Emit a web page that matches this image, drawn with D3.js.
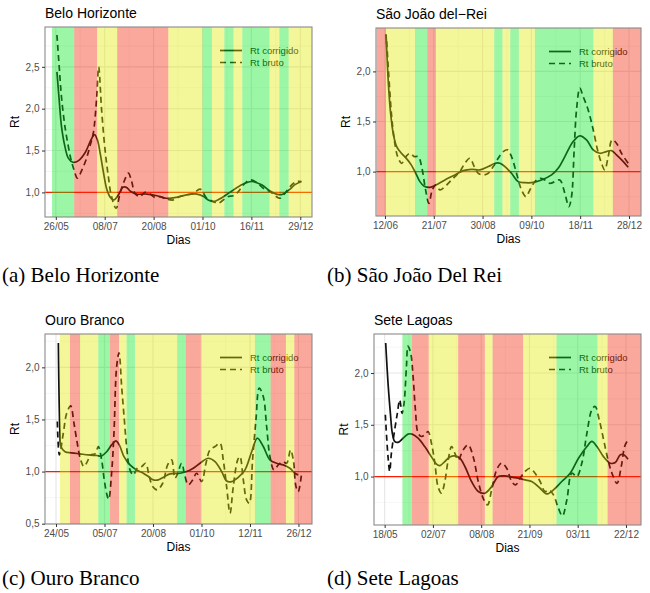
<!DOCTYPE html>
<html>
<head>
<meta charset="utf-8">
<script src="https://cdn.jsdelivr.net/npm/d3@7"></script>
<style>
	body { margin: 0; background: #fff; }
	text { font-family: "Liberation Sans", Arial, sans-serif; }
	.cap { font-family: "Liberation Serif", "Times New Roman", serif; }
</style>
</head>
<body>
<svg id="fig" width="650" height="593"></svg>
<script>
// x = days counted from the first date label, y = Rt value
// bands: [start, end, level] with g = verde, y = amarelo, r = vermelho

// ---------- Belo Horizonte ----------
const bhLabels = ['26/05', '08/07', '20/08', '01/10', '16/11', '29/12']
const bhCorrigido = [[1, 2.44], [3, 2.10], [5, 1.79], [8, 1.55], [11, 1.41], [15, 1.36], [20, 1.38], [26, 1.48],
	[31, 1.63], [34, 1.69], [36.5, 1.63], [39, 1.47], [42, 1.23], [45, 1.03], [48.5, 0.93], [51, 0.91], [55, 0.97],
	[59, 1.06], [62, 1.06], [66, 1.01], [71, 0.98], [80, 0.98], [89, 0.96], [97, 0.93], [106, 0.94], [115, 0.97],
	[124, 0.98], [130, 0.95], [134, 0.91], [139, 0.89], [144, 0.92], [153, 1.0], [162, 1.08], [172, 1.13],
	[181, 1.09], [188, 1.02], [194, 0.98], [199, 0.975], [206, 1.04], [210, 1.09], [216, 1.13]]
const bhBruto = [[1, 2.88], [3, 2.5], [5, 2.14], [8, 1.79], [11, 1.55], [13.4, 1.39], [16, 1.27], [19, 1.17],
	[23, 1.27], [26.6, 1.39], [30, 1.55], [33, 1.71], [36, 2.14], [37.7, 2.5], [40.3, 1.98], [43.3, 1.51],
	[46.2, 1.19], [49, 0.95], [53, 0.81], [56.5, 0.99], [60, 1.13], [63.8, 1.23], [66.7, 1.13], [69.6, 0.99],
	[74, 0.95], [78.4, 1.0], [82.8, 0.98], [87.3, 0.94], [91.7, 0.95], [97.5, 0.92], [103.4, 0.91], [109, 0.95],
	[115, 0.97], [121, 0.99], [126.8, 1.04], [129.8, 0.99], [132.7, 0.93], [138.6, 0.89], [143, 0.87],
	[147.3, 0.91], [151.7, 0.95], [156, 0.96], [160.5, 1.01], [165, 1.09], [170.8, 1.15], [176.6, 1.12],
	[182.5, 1.05], [188.4, 1.01], [192.8, 0.96], [197.2, 0.93], [201.6, 0.99], [206, 1.07], [211.8, 1.13], [216, 1.13]]
const bhBands = [[-3.3, 16.2, 'g'], [16.2, 36.3, 'r'], [36.3, 54, 'y'], [54, 99, 'r'], [99, 129, 'y'],
	[129, 137.3, 'g'], [137.3, 148.2, 'y'], [148.2, 156.4, 'g'], [156.4, 164, 'y'], [164, 188, 'g'],
	[188, 196.6, 'y'], [196.6, 204.8, 'g'], [204.8, 226, 'y']]

// ---------- Sao Joao del-Rei ----------
const sjLabels = ['12/06', '21/07', '30/08', '09/10', '18/11', '28/12']
const sjCorrigido = [[1, 2.37], [3, 1.88], [5, 1.58], [7.3, 1.38], [10.3, 1.25], [14.7, 1.18], [19, 1.13],
	[23, 1.07], [26.4, 1.0], [30.8, 0.9], [34.3, 0.857], [39.6, 0.843], [44.9, 0.867], [52.8, 0.917],
	[61.6, 0.967], [69, 1.01], [76.3, 1.023], [83.7, 1.017], [91, 1.05], [97, 1.083], [101.3, 1.083],
	[105.7, 1.05], [111.5, 0.983], [117.4, 0.9], [123.3, 0.89], [129, 0.89], [138, 0.917], [146.8, 0.967],
	[152.6, 1.033], [158.5, 1.15], [165.8, 1.3], [171.7, 1.357], [177.6, 1.317], [183.5, 1.217], [189.3, 1.183],
	[195.2, 1.2], [199.6, 1.21], [204, 1.167], [210, 1.1], [214.3, 1.043]]
const sjBruto = [[1.5, 2.3], [3.8, 1.88], [5.9, 1.55], [8.2, 1.32], [11.2, 1.15], [14.7, 1.083], [18.5, 1.15],
	[22, 1.183], [25.8, 1.15], [29.4, 1.15], [32.3, 1.05], [35.8, 0.817], [38.7, 0.683], [41.7, 0.817],
	[44.9, 0.867], [48.4, 0.817], [52.8, 0.85], [57.2, 0.9], [61.6, 0.95], [66, 1.0], [70.4, 1.083],
	[74.8, 1.133], [78.7, 1.05], [82.2, 0.983], [86.6, 0.967], [91, 0.983], [95.4, 1.05], [99.8, 1.133],
	[104.2, 1.2], [108, 1.217], [111.5, 1.15], [115.9, 0.983], [120.3, 0.817], [124.2, 0.75], [127.7, 0.817],
	[132.1, 0.9], [136.5, 0.933], [140.9, 0.917], [145.3, 0.883], [149.7, 0.9], [154.1, 0.917], [158.5, 0.783],
	[162, 0.65], [164.4, 0.75], [166.7, 1.217], [168.8, 1.617], [171.7, 1.833], [174.6, 1.75], [179, 1.617],
	[183.5, 1.417], [187.3, 1.217], [190.8, 1.083], [193.7, 1.017], [196.7, 1.15], [200.2, 1.317],
	[204, 1.283], [208.4, 1.183], [214.3, 1.083]]
const sjBands = [[-7.3, 0.9, 'r'], [0.9, 26.4, 'y'], [26.4, 37.3, 'g'], [37.3, 44.9, 'r'], [44.9, 96.3, 'y'],
	[96.3, 103.6, 'g'], [103.6, 110.4, 'y'], [110.4, 118, 'g'], [118, 132.1, 'y'], [132.1, 183.7, 'g'],
	[183.7, 200.8, 'y'], [200.8, 226, 'r']]

// ---------- Ouro Branco ----------
const obLabels = ['24/05', '05/07', '20/08', '01/10', '12/11', '26/12']
const obCorrigido = [[2.1, 2.234], [3.5, 1.369], [4.4, 1.24], [8, 1.19], [13.9, 1.18], [21.3, 1.17],
	[28.7, 1.16], [36.1, 1.154], [40.5, 1.15], [44.9, 1.19], [49.3, 1.256], [53.2, 1.295], [56.1, 1.256],
	[60.3, 1.144], [65.6, 1.064], [71.5, 1.016], [77.4, 0.984], [81.9, 0.952], [86.3, 0.92], [90.7, 0.92],
	[95.2, 0.945], [101.1, 0.978], [109.9, 0.984], [115.8, 1.0], [121.7, 1.032], [127.7, 1.08], [135, 1.128],
	[141, 1.096], [146.9, 1.0], [151.3, 0.91], [155.7, 0.904], [161.6, 0.945], [167.6, 1.016], [173.5, 1.19],
	[178.5, 1.32], [183.8, 1.24], [189.7, 1.112], [195.6, 1.08], [201.5, 1.064], [207.4, 1.032],
	[211.9, 0.984], [214.8, 0.968]]
const obBruto = [[1.2, 1.48], [3, 1.16], [6.5, 1.37], [9.5, 1.56], [13, 1.63], [16, 1.46], [18.9, 1.27],
	[21.9, 1.11], [24.8, 1.048], [27.8, 1.096], [30.7, 1.16], [34.6, 1.17], [37.5, 1.24], [40.5, 1.11],
	[42.8, 0.92], [44.9, 0.79], [46.7, 0.734], [49.3, 0.984], [51.4, 1.369], [53.8, 2.01], [55.9, 2.138],
	[58.2, 1.817], [60.6, 1.497], [62.6, 1.24], [65.6, 1.016], [68.6, 0.968], [72.1, 1.032], [76, 1.048],
	[79.5, 1.08], [82.4, 0.968], [85.7, 0.856], [89.8, 0.824], [94.6, 0.888], [99, 1.064], [102.5, 1.112],
	[105.5, 0.936], [107.9, 0.984], [111.4, 1.08], [114.4, 0.952], [117.3, 0.872], [121.2, 0.92],
	[124.7, 0.984], [129.1, 0.904], [133, 1.08], [136.5, 1.208], [141, 1.24], [145.4, 1.272], [148.3, 1.112],
	[151.3, 0.856], [154.3, 0.6], [157.2, 0.856], [161.1, 1.112], [163.1, 1.144], [166.1, 0.92], [169, 0.728],
	[171.4, 0.696], [174.3, 1.112], [177.3, 1.497], [180.2, 1.8], [183.8, 1.72], [186.8, 1.43], [189.7, 1.144],
	[193.3, 1.016], [197.1, 1.064], [201, 1.096], [204.5, 1.08], [208, 1.208], [210.4, 1.112], [212.8, 0.856],
	[214.8, 0.808], [217.8, 0.984]]
const obBands = [[3.5, 12.4, 'y'], [12.4, 21.3, 'r'], [21.3, 37.5, 'y'], [37.5, 47.9, 'g'], [47.9, 55.9, 'r'],
	[55.9, 62.6, 'y'], [62.6, 70, 'g'], [70, 107.6, 'y'], [107.6, 115, 'g'], [115, 128.5, 'r'],
	[128.5, 176.4, 'y'], [176.4, 190.3, 'g'], [190.3, 203.9, 'r'], [203.9, 211.3, 'y'], [211.3, 228, 'r']]

// ---------- Sete Lagoas ----------
const slLabels = ['18/05', '02/07', '08/08', '21/09', '03/11', '22/12']
const slCorrigido = [[0.9, 2.29], [3, 1.90], [5.1, 1.61], [6.8, 1.42], [8.9, 1.34], [11.9, 1.33], [16.4, 1.37],
	[20.8, 1.41], [24.4, 1.41], [29.8, 1.37], [35.7, 1.29], [41.7, 1.19], [46.2, 1.12], [49.1, 1.106],
	[53.6, 1.145], [58.1, 1.19], [62.5, 1.2], [67, 1.177], [71.5, 1.097], [77.4, 0.952], [83.4, 0.855],
	[89.3, 0.839], [95.3, 0.903], [101.2, 1.0], [107.2, 1.006], [113.2, 0.994], [119.1, 0.984], [125.1, 0.968],
	[131, 0.952], [138.5, 0.887], [144.4, 0.832], [150.4, 0.871], [157.8, 0.952], [165.3, 1.032],
	[172.7, 1.177], [180.2, 1.29], [184.6, 1.339], [189.1, 1.29], [195.1, 1.19], [201, 1.129], [205.5, 1.135],
	[210, 1.21], [212.9, 1.21], [216.8, 1.168]]
const slBruto = [[0.6, 1.597], [3, 1.19], [4.5, 1.05], [6, 1.226], [8.9, 1.45], [11.3, 1.61], [13.4, 1.74],
	[15.5, 1.61], [17.3, 1.71], [19.4, 2.06], [20.8, 2.26], [23.2, 2.19], [25.3, 1.97], [27.4, 1.645],
	[29.8, 1.42], [32.8, 1.387], [35.7, 1.403], [38.7, 1.435], [41.7, 1.32], [44.7, 1.13], [47.6, 0.9],
	[50.6, 0.84], [53.6, 0.952], [56.6, 1.16], [59.6, 1.29], [62.5, 1.226], [65.5, 1.16], [70, 1.258],
	[74.4, 1.306], [78.9, 1.19], [83.4, 0.952], [87.8, 0.79], [91.7, 0.726], [95.3, 0.871], [99.8, 1.065],
	[104.2, 1.13], [108.7, 1.08], [113.2, 0.952], [116.7, 0.919], [120.6, 0.984], [125.1, 1.048], [129.5, 1.08],
	[134, 1.032], [138.5, 0.952], [142.9, 0.855], [146.5, 0.871], [150.4, 0.823], [154.8, 0.694], [158.4, 0.62],
	[162.3, 0.774], [166.8, 1.032], [171.2, 1.0], [175.7, 1.13], [180.2, 1.42], [184.6, 1.645], [187.6, 1.677],
	[191.2, 1.548], [195.1, 1.355], [199, 1.161], [202.5, 1.032], [207, 0.935], [210.8, 1.097], [213.8, 1.29],
	[215.9, 1.339]]
const slBands = [[15.8, 24.4, 'g'], [24.4, 39.3, 'r'], [39.3, 65.5, 'y'], [65.5, 89.3, 'r'], [89.3, 96.2, 'y'],
	[96.2, 123.3, 'r'], [123.3, 153.1, 'y'], [153.1, 189.7, 'g'], [189.7, 198.6, 'y'], [198.6, 229, 'r']]

const tickDays = [0, 43, 86, 129, 172, 215]
const legendNames = ['Rt corrigido', 'Rt bruto']
const bandColor = { g: '#05e81e', y: '#e1e800', r: '#f22605' }

const svg = d3.select('#fig')

function fmt(v) {
	return d3.format('.1f')(v).replace('.', ',')
}

function drawPanel(p) {
	const g = svg.append('g')

	const x = d3.scaleLinear().domain(p.xDomain).range([p.left, p.right])
	const y = d3.scaleLinear().domain(p.yDomain).range([p.bottom, p.top])

	g.append('rect')
		.attr('x', p.left)
		.attr('y', p.top)
		.attr('width', p.right - p.left)
		.attr('height', p.bottom - p.top)
		.attr('fill', 'white')

	// grid (minor + major)
	const yMinor = p.yTicks.map(t => t - 0.25).concat([p.yTicks[p.yTicks.length - 1] + 0.25])
		.filter(v => v > p.yDomain[0] && v < p.yDomain[1])
	const xMinor = tickDays.slice(1).map(t => t - 21.5)
	g.selectAll('.ymin').data(yMinor).enter().append('line')
		.attr('x1', p.left).attr('x2', p.right)
		.attr('y1', d => y(d)).attr('y2', d => y(d))
		.attr('stroke', '#f0f0f0').attr('stroke-width', 0.6)
	g.selectAll('.xmin').data(xMinor).enter().append('line')
		.attr('y1', p.top).attr('y2', p.bottom)
		.attr('x1', d => x(d)).attr('x2', d => x(d))
		.attr('stroke', '#f0f0f0').attr('stroke-width', 0.6)
	g.selectAll('.ymaj').data(p.yTicks).enter().append('line')
		.attr('x1', p.left).attr('x2', p.right)
		.attr('y1', d => y(d)).attr('y2', d => y(d))
		.attr('stroke', '#e6e6e6').attr('stroke-width', 1.1)
	g.selectAll('.xmaj').data(tickDays).enter().append('line')
		.attr('y1', p.top).attr('y2', p.bottom)
		.attr('x1', d => x(d)).attr('x2', d => x(d))
		.attr('stroke', '#e6e6e6').attr('stroke-width', 1.1)

	// Rt = 1 reference
	g.append('line')
		.attr('x1', p.left).attr('x2', p.right)
		.attr('y1', y(1)).attr('y2', y(1))
		.attr('stroke', '#ff1a00').attr('stroke-width', 1.3)

	const line = d3.line()
		.x(d => x(d[0]))
		.y(d => y(d[1]))
		.curve(d3.curveCatmullRom.alpha(0.5))

	g.append('path')
		.datum(p.bruto)
		.attr('d', line)
		.attr('fill', 'none')
		.attr('stroke', '#111')
		.attr('stroke-width', 1.7)
		.attr('stroke-dasharray', '6,4')

	g.append('path')
		.datum(p.corrigido)
		.attr('d', line)
		.attr('fill', 'none')
		.attr('stroke', '#111')
		.attr('stroke-width', 1.7)

	// legend (sits under the coloured bands, like the original)
	legendNames.forEach(function(name, i) {
		const ly = p.top + 23.5 + i * 12
		g.append('line')
			.attr('x1', p.right - 92).attr('x2', p.right - 70)
			.attr('y1', ly).attr('y2', ly)
			.attr('stroke', '#111')
			.attr('stroke-width', 1.7)
			.attr('stroke-dasharray', i == 1 ? '6,4' : null)
		g.append('text')
			.attr('x', p.right - 62)
			.attr('y', ly + 3.4)
			.attr('font-size', 9.5)
			.attr('fill', '#111')
			.text(name)
	})

	// translucent level bands on top
	g.selectAll('.band').data(p.bands).enter().append('rect')
		.attr('x', d => x(Math.max(d[0], p.xDomain[0])))
		.attr('y', p.top)
		.attr('width', d => x(Math.min(d[1], p.xDomain[1])) - x(Math.max(d[0], p.xDomain[0])))
		.attr('height', p.bottom - p.top)
		.attr('fill', d => bandColor[d[2]])
		.attr('fill-opacity', 0.4)

	g.append('rect')
		.attr('x', p.left)
		.attr('y', p.top)
		.attr('width', p.right - p.left)
		.attr('height', p.bottom - p.top)
		.attr('fill', 'none')
		.attr('stroke', '#8a8a8a')
		.attr('stroke-width', 1.1)

	// axes
	const xAxis = g.append('g')
		.attr('transform', 'translate(0,' + p.bottom + ')')
		.call(d3.axisBottom(x).tickValues(tickDays).tickFormat((d, i) => p.labels[i]).tickSize(3).tickPadding(2.5))
	const yAxis = g.append('g')
		.attr('transform', 'translate(' + p.left + ',0)')
		.call(d3.axisLeft(y).tickValues(p.yTicks).tickFormat(fmt).tickSize(3).tickPadding(2.5))
	;[xAxis, yAxis].forEach(function(a) {
		a.select('.domain').remove()
		a.selectAll('.tick line').attr('stroke', '#333')
		a.selectAll('.tick text')
			.attr('font-size', 10)
			.attr('fill', '#4d4d4d')
			.style('font-family', '"Liberation Sans", Arial, sans-serif')
	})

	g.append('text')
		.attr('x', (p.left + p.right) / 2)
		.attr('y', p.bottom + 26.5)
		.attr('text-anchor', 'middle')
		.attr('font-size', 12)
		.text('Dias')

	g.append('text')
		.attr('transform', 'translate(' + (p.left - 26) + ',' + ((p.top + p.bottom) / 2) + ') rotate(-90)')
		.attr('text-anchor', 'middle')
		.attr('font-size', 12)
		.text('Rt')

	g.append('text')
		.attr('x', p.left)
		.attr('y', p.top - 9)
		.attr('font-size', 14)
		.text(p.title)

	svg.append('text')
		.attr('class', 'cap')
		.attr('x', p.capX)
		.attr('y', p.capY)
		.attr('font-size', 21)
		.text(p.caption)
}

const panels = [
	{ title: 'Belo Horizonte', caption: '(a) Belo Horizonte', labels: bhLabels, corrigido: bhCorrigido,
		bruto: bhBruto, bands: bhBands, yTicks: [1, 1.5, 2, 2.5], xDomain: [-9.5, 225.3], yDomain: [0.706, 2.976],
		left: 45, right: 312, top: 27, bottom: 217, capX: 2, capY: 282 },
	{ title: 'São João del\u2212Rei', caption: '(b) São João Del Rei', labels: sjLabels, corrigido: sjCorrigido,
		bruto: sjBruto, bands: sjBands, yTicks: [1, 1.5, 2], xDomain: [-7.9, 225.6], yDomain: [0.557, 2.433],
		left: 376, right: 641, top: 28, bottom: 216, capX: 327, capY: 282 },
	{ title: 'Ouro Branco', caption: '(c) Ouro Branco', labels: obLabels, corrigido: obCorrigido,
		bruto: obBruto, bands: obBands, yTicks: [0.5, 1, 1.5, 2], xDomain: [-9.75, 227], yDomain: [0.497, 2.32],
		left: 45, right: 312, top: 334, bottom: 524, capX: 2, capY: 585 },
	{ title: 'Sete Lagoas', caption: '(d) Sete Lagoas', labels: slLabels, corrigido: slCorrigido,
		bruto: slBruto, bands: slBands, yTicks: [1, 1.5, 2], xDomain: [-9.5, 228.4], yDomain: [0.532, 2.377],
		left: 374, right: 641, top: 334, bottom: 525, capX: 327, capY: 585 }
]

panels.forEach(drawPanel)
</script>
</body>
</html>
